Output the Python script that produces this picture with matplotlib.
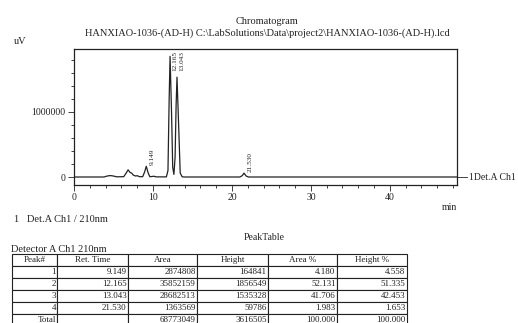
import matplotlib.pyplot as plt
from matplotlib.ticker import MultipleLocator

plt.rcParams['font.family'] = ['Liberation Serif', 'DejaVu Serif']

# chromatogram trace (min, uV)
Time = [0, 3.8, 4.2, 4.6, 5.0, 5.4, 6.3, 6.6, 6.85, 7.1, 7.3, 7.5, 7.8, 8.0, 8.3,
        8.7, 8.95, 9.15, 9.4, 9.6, 9.9, 10.1, 10.4, 11.7, 11.9, 12.05, 12.165,
        12.35, 12.5, 12.65, 12.8, 12.93, 13.043, 13.25, 13.45, 13.7, 14.0,
        21.0, 21.3, 21.53, 21.8, 22.1, 48.5]
Signal = [0, 0, 15000, 22000, 15000, 3000, 5000, 60000, 110000, 70000, 60000,
          30000, 15000, 20000, 5000, 5000, 80000, 164841, 60000, 5000, 8000,
          12000, 2000, 2000, 100000, 1200000, 1856549, 1000000, 150000, 40000,
          300000, 1100000, 1535328, 800000, 60000, 3000, 0,
          0, 20000, 59786, 15000, 0, 0]

PeakTimes = [9.149, 12.165, 13.043, 21.530]
PeakHeights = [164841, 1856549, 1535328, 59786]
PeakLabels = ['9.149', '12.165', '13.043', '21.530']

TableHeader = ['Peak#', 'Ret. Time', 'Area', 'Height', 'Area %', 'Height %']
TableRows = [
    ['1', '9.149', '2874808', '164841', '4.180', '4.558'],
    ['2', '12.165', '35852159', '1856549', '52.131', '51.335'],
    ['3', '13.043', '28682513', '1535328', '41.706', '42.453'],
    ['4', '21.530', '1363569', '59786', '1.983', '1.653'],
    ['Total', '', '68773049', '3616505', '100.000', '100.000'],
]

Ink = '#222222'
W, H = 518, 323
fig = plt.figure(figsize=(W / 100, H / 100), dpi=100)

def fx(px):
    return px / W

def fy(py):
    return 1 - py / H

ax = fig.add_axes([fx(74), fy(185), fx(457) - fx(74), fy(49) - fy(185)])
ax.plot(Time, Signal, color=Ink, lw=0.9)
ax.set_xlim(0, 48.5)
ax.set_ylim(-123000, 1969000)
ax.set_xticks([0, 10, 20, 30, 40])
ax.set_yticks([0, 1000000])
ax.set_yticklabels(['0', '1000000'])
ax.xaxis.set_minor_locator(MultipleLocator(2))
ax.yaxis.set_minor_locator(MultipleLocator(200000))
ax.tick_params(which='major', length=4, width=0.6, color=Ink, labelsize=7,
               labelcolor=Ink, pad=2)
ax.tick_params(which='minor', length=2.5, width=0.6, color=Ink)
for s in ax.spines.values():
    s.set_color(Ink)
    s.set_linewidth(0.9)

# retention time labels, the two big peaks are tagged at the top
LabelX = {'12.165': 12.75, '13.043': 13.6}
for t, h, lab in zip(PeakTimes, PeakHeights, PeakLabels):
    if h > 1000000:
        ax.text(LabelX[lab], 1940000, lab, rotation=90,
                ha='center', va='top', fontsize=5.2, color=Ink)
    else:
        ax.text(t + 0.8, h + 15000, lab, rotation=90, ha='center',
                va='bottom', fontsize=5.2, color=Ink)

# channel marker at right
ax.plot([48.5, 49.8], [0, 0], color=Ink, lw=0.6, clip_on=False)
ax.text(50.0, 0, '1Det.A Ch1', fontsize=7, va='center', ha='left', color=Ink)

fig.text(fx(267), fy(21), 'Chromatogram', ha='center', va='center', fontsize=7.5, color=Ink)
fig.text(fx(267), fy(33), 'HANXIAO-1036-(AD-H) C:\\LabSolutions\\Data\\project2\\HANXIAO-1036-(AD-H).lcd',
         ha='center', va='center', fontsize=7.5, color=Ink)
fig.text(fx(14), fy(42), 'uV', ha='left', va='center', fontsize=7.5, color=Ink)
fig.text(fx(449), fy(208), 'min', ha='center', va='center', fontsize=7, color=Ink)
fig.text(fx(14), fy(220), '1   Det.A Ch1 / 210nm', ha='left', va='center', fontsize=7.5, color=Ink)
fig.text(fx(264), fy(238), 'PeakTable', ha='center', va='center', fontsize=7, color=Ink)
fig.text(fx(11), fy(250), 'Detector A Ch1 210nm', ha='left', va='center', fontsize=7.5, color=Ink)

# peak table
tax = fig.add_axes([0, 0, 1, 1])
tax.set_axis_off()
ColEdges = [12, 57, 128, 197, 268, 337, 407]
RowH = 12
TableTop = 254
tbl = tax.table(cellText=TableRows, colLabels=TableHeader, cellLoc='right',
                bbox=[fx(12), fy(TableTop + RowH * 6), fx(407) - fx(12), RowH * 6 / H])
tbl.auto_set_font_size(False)
for (r, c), cell in tbl.get_celld().items():
    cell.set_edgecolor(Ink)
    cell.set_linewidth(0.8)
    cell.set_width((ColEdges[c + 1] - ColEdges[c]) / W)
    cell.get_text().set_fontsize(6.5)
    cell.get_text().set_color(Ink)
    cell.PAD = 0.02
    if r == 0:
        cell.get_text().set_ha('center')
        cell._loc = 'center'
tbl.set_clip_on(False)

fig.savefig('out.png', dpi=100)
